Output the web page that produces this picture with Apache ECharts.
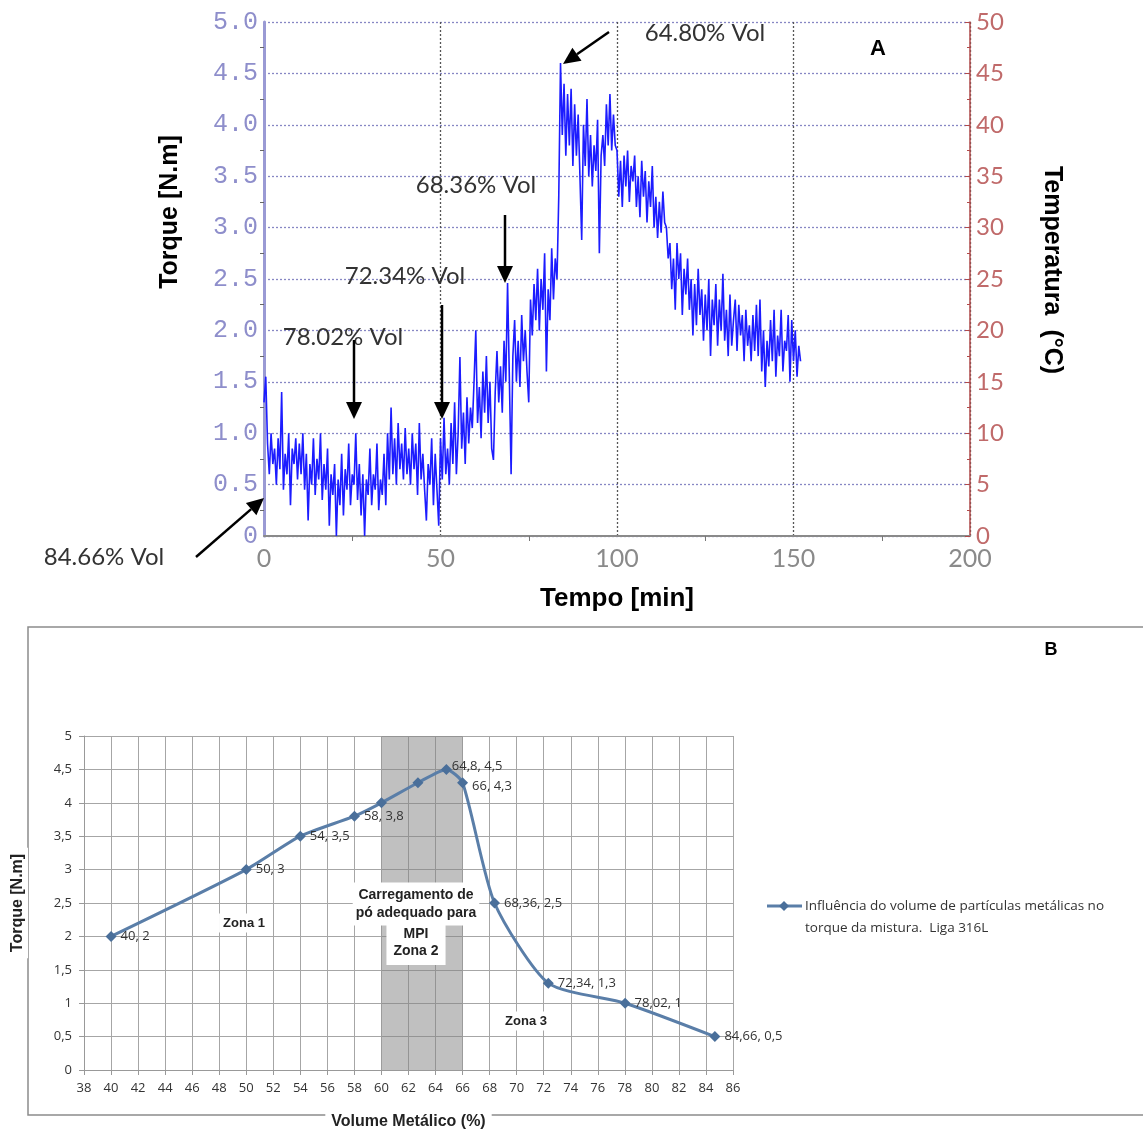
<!DOCTYPE html>
<html>
<head>
<meta charset="utf-8">
<script src="https://cdn.jsdelivr.net/npm/echarts@6/dist/echarts.min.js"></script>
<style>
  html, body { margin: 0; padding: 0; background: #fff; }
  #chart { width: 1143px; height: 1133px; }
</style>
</head>
<body>
<div id="chart"></div>
<script>
// --- A: torque reading, one sample every 0.5 min (0 .. 152 min)
const sampleStep = 0.5;
const torqueA = [
  1.3, 1.55, 0.9, 0.6, 1.0, 0.7, 0.85, 0.5, 0.95, 0.65, 1.4, 0.45, 0.8, 0.6, 1.0, 0.3, 0.85, 0.7, 0.95, 0.55,
  0.9, 0.6, 1.0, 0.45, 0.8, 0.15, 0.7, 0.5, 0.95, 0.4, 0.75, 0.55, 1.0, 0.35, 0.7, 0.45, 0.85, 0.1, 0.6, 0.4,
  0.7, 0.0, 0.55, 0.3, 0.8, 0.2, 0.65, 0.45, 0.9, 0.3, 0.6, 0.5, 1.0, 0.35, 0.7, 0.2, 0.6, 0.0, 0.55, 0.4,
  0.85, 0.3, 0.6, 0.45, 0.9, 0.25, 0.55, 0.4, 0.8, 0.3, 1.0, 0.55, 1.25, 0.6, 0.95, 0.5, 1.1, 0.65, 0.9, 0.55,
  1.05, 0.6, 0.85, 0.5, 1.0, 0.65, 0.9, 0.4, 1.1, 0.55, 0.8, 0.45, 0.15, 0.7, 0.5, 0.95, 0.3, 0.8, 0.45, 0.1,
  0.95, 0.55, 1.15, 0.6, 0.85, 0.5, 1.1, 0.7, 1.3, 0.6, 1.0, 1.74, 0.85, 1.2, 0.7, 1.35, 0.9, 1.25, 1.05, 1.5,
  2.0, 1.1, 1.45, 0.95, 1.6, 1.2, 1.75, 1.1, 1.5, 0.85, 0.74, 1.4, 1.8, 1.3, 1.65, 1.2, 1.9, 1.5, 2.46, 1.55,
  0.6, 1.75, 2.1, 1.5, 1.9, 1.45, 2.15, 1.7, 2.0, 1.6, 1.3, 2.3, 1.95, 2.45, 2.1, 2.6, 2.0, 2.5, 2.2, 2.75,
  1.6, 2.4, 2.1, 2.8, 2.3, 2.7, 2.5, 3.3, 4.6, 3.9, 4.4, 3.7, 4.3, 3.8, 4.35, 3.6, 4.2, 3.7, 4.1, 3.5,
  2.88, 4.0, 3.6, 4.25, 3.5, 3.9, 3.4, 3.8, 3.55, 4.05, 2.75, 3.7, 3.9, 3.6, 4.2, 3.8, 4.3, 3.75, 4.1, 3.8,
  3.75, 3.3, 3.65, 3.2, 3.7, 3.4, 3.75, 3.25, 3.6, 3.45, 3.7, 3.2, 3.5, 3.1, 3.65, 3.3, 3.55, 3.05, 3.45, 3.2,
  3.6, 3.0, 3.3, 2.9, 3.25, 2.95, 3.35, 3.05, 3.0, 2.7, 2.85, 2.4, 2.7, 2.2, 2.85, 2.5, 2.75, 2.15, 2.6, 2.35,
  2.7, 2.2, 2.5, 1.95, 2.45, 2.05, 2.6, 2.15, 2.4, 1.9, 2.35, 2.0, 2.5, 1.75, 2.3, 2.05, 2.45, 1.85, 2.3, 2.0,
  2.55, 1.9, 2.2, 1.75, 2.35, 1.85, 2.1, 2.3, 1.8, 2.25, 1.95, 2.15, 1.7, 2.2, 1.85, 2.05, 1.7, 2.15, 1.8, 2.25,
  1.75, 2.3, 1.6, 2.0, 1.45, 1.9, 1.65, 2.1, 1.7, 2.2, 1.55, 1.95, 1.75, 2.2, 1.6, 1.9, 1.8, 2.15, 1.5, 2.1,
  1.7, 2.0, 1.55, 1.85, 1.7
];

// --- B: torque vs metallic volume
const volume = [40, 50, 54, 58, 60, 62.7, 64.8, 66, 68.36, 72.34, 78.02, 84.66];
const torqueB = [2, 3, 3.5, 3.8, 4, 4.3, 4.5, 4.3, 2.5, 1.3, 1, 0.5];
const pointLabels = ['40, 2', '50, 3', '54, 3,5', '58, 3,8', '', '', '64,8, 4,5', '66, 4,3',
  '68,36, 2,5', '72,34, 1,3', '78,02, 1', '84,66, 0,5'];
const zone2 = [60, 66];

const volLabels = [
  { text: '64.80% Vol', x: 705, y: 33 },
  { text: '68.36% Vol', x: 476, y: 185 },
  { text: '72.34% Vol', x: 405, y: 276 },
  { text: '78.02% Vol', x: 343, y: 337 },
  { text: '84.66% Vol', x: 104, y: 557 }
];
const arrows = [
  [609, 32, 563, 64],
  [505, 215, 505, 283],
  [442, 305, 442, 419],
  [354, 340, 354, 419],
  [196, 557, 264, 498]
];

function arrow(a) {
  const [x1, y1, x2, y2] = a;
  const ang = Math.atan2(y2 - y1, x2 - x1);
  const len = 17, half = 8;
  const bx = x2 - len * Math.cos(ang), by = y2 - len * Math.sin(ang);
  const nx = -Math.sin(ang), ny = Math.cos(ang);
  return [
    { type: 'line', z: 100, shape: { x1: x1, y1: y1, x2: bx, y2: by }, style: { stroke: '#000', lineWidth: 2.5 } },
    { type: 'polygon', z: 100, shape: { points: [[x2, y2], [bx + nx * half, by + ny * half], [bx - nx * half, by - ny * half]] },
      style: { fill: '#000' } }
  ];
}

const chart = echarts.init(document.getElementById('chart'));

const boxText = { font: 'bold 14px "Liberation Sans"', fill: '#222', align: 'center', verticalAlign: 'middle', backgroundColor: '#fff' };

const graphics = [
  { type: 'rect', z: -10, shape: { x: 28, y: 627, width: 1130, height: 488 },
    style: { fill: 'none', stroke: '#8c8c8c', lineWidth: 1.5 } },
  { type: 'text', x: 170, y: 212, rotation: Math.PI / 2,
    style: { text: 'Torque [N.m]', font: 'bold 25px "Liberation Sans"', fill: '#000', align: 'center', verticalAlign: 'middle' } },
  { type: 'text', x: 1052, y: 270, rotation: -Math.PI / 2,
    style: { text: 'Temperatura  (°C)', font: 'bold 25px "Liberation Sans"', fill: '#000', align: 'center', verticalAlign: 'middle' } },
  { type: 'text', x: 878, y: 49,
    style: { text: 'A', font: 'bold 22px "Liberation Sans"', fill: '#000', align: 'center', verticalAlign: 'middle' } },
  { type: 'text', x: 1051, y: 650,
    style: { text: 'B', font: 'bold 18px "Liberation Sans"', fill: '#000', align: 'center', verticalAlign: 'middle' } },
  { type: 'text', z: 100, x: 244, y: 923,
    style: Object.assign({}, boxText, { text: 'Zona 1', font: 'bold 13px "Liberation Sans"', padding: [3, 4] }) },
  { type: 'text', z: 100, x: 526, y: 1021,
    style: Object.assign({}, boxText, { text: 'Zona 3', font: 'bold 13px "Liberation Sans"', padding: [3, 4] }) },
  { type: 'text', z: 100, x: 416, y: 943,
    style: Object.assign({}, boxText, { text: 'MPI\nZona 2', lineHeight: 17, padding: [2, 7, 8, 7] }) },
  { type: 'text', z: 101, x: 416, y: 904,
    style: Object.assign({}, boxText, { text: 'Carregamento de\npó adequado para', lineHeight: 18, padding: [5, 3, 2, 3] }) },
  // legend of B
  { type: 'line', shape: { x1: 767, y1: 906, x2: 802, y2: 906 }, style: { stroke: '#5a7ea8', lineWidth: 3 } },
  { type: 'polygon', shape: { points: [[784, 901], [789, 906], [784, 911], [779, 906]] }, style: { fill: '#4a6f9a' } },
  { type: 'text', x: 805, y: 917,
    style: { text: 'Influência do volume de partículas metálicas no\ntorque da mistura.  Liga 316L',
      font: '13.5px "Open Sans"', fill: '#333', align: 'left', verticalAlign: 'middle', lineHeight: 22 } }
];
volLabels.forEach(function (l) {
  graphics.push({ type: 'text', z: 100, x: l.x, y: l.y,
    style: { text: l.text, font: '24px "Lato"', fill: '#333', align: 'center', verticalAlign: 'middle' } });
});
arrows.forEach(function (a) { arrow(a).forEach(function (g) { graphics.push(g); }); });

const option = {
  backgroundColor: '#fff',
  animation: false,
  grid: [
    { left: 264, right: 173, top: 22, bottom: 597 },
    { left: 76, right: 410, top: 736, bottom: 60 }
  ],
  xAxis: [
    {
      gridIndex: 0, type: 'value', min: 0, max: 200, interval: 50,
      name: 'Tempo [min]', nameLocation: 'middle', nameGap: 50,
      nameTextStyle: { fontFamily: 'Liberation Sans', fontWeight: 'bold', fontSize: 26, color: '#000' },
      axisLine: { lineStyle: { color: '#8a8a8a', width: 2 } },
      axisTick: { show: false },
      minorTick: { show: true, splitNumber: 2, length: 5, lineStyle: { color: '#777' } },
      axisLabel: { fontFamily: 'Lato', fontSize: 25, color: '#8a8a8a', margin: 10 },
      splitLine: { show: true, lineStyle: { type: [2, 2], color: '#555', width: 1.3 } }
    },
    {
      gridIndex: 1, type: 'value', min: 38, max: 86, interval: 2,
      name: 'Volume Metálico (%)', nameLocation: 'middle', nameGap: 42,
      nameTextStyle: { fontFamily: 'Liberation Sans', fontWeight: 'bold', fontSize: 16, color: '#222',
        backgroundColor: '#fff', padding: [2, 6] },
      axisLine: { lineStyle: { color: '#999' } },
      axisTick: { show: true, length: 5, lineStyle: { color: '#999' } },
      axisLabel: { fontFamily: 'Open Sans', fontSize: 13, color: '#333', margin: 12 },
      splitLine: { show: true, lineStyle: { color: '#a6a6a6', width: 1 } }
    }
  ],
  yAxis: [
    {
      gridIndex: 0, type: 'value', min: 0, max: 5, interval: 0.5, position: 'left',
      axisLine: { show: true, lineStyle: { color: '#9a9ad4', width: 3 } },
      axisTick: { show: false },
      minorTick: { show: true, splitNumber: 2, length: 4, lineStyle: { color: '#666' } },
      axisLabel: { fontFamily: 'Liberation Mono', fontSize: 25, color: '#8e8ecb', margin: 6,
        formatter: function (v) { return v === 0 ? '0' : v.toFixed(1); } },
      splitLine: { show: true, lineStyle: { type: [2, 2], color: '#8787c4', width: 1.3 } }
    },
    {
      gridIndex: 0, type: 'value', min: 0, max: 50, interval: 5, position: 'right',
      axisLine: { show: true, lineStyle: { color: '#b04a4a', width: 1.5 } },
      axisTick: { show: true, inside: true, length: 5, lineStyle: { color: '#b04a4a' } },
      minorTick: { show: true, splitNumber: 2, length: 3, lineStyle: { color: '#b04a4a' } },
      axisLabel: { fontFamily: 'Lato', fontSize: 24, color: '#c06a6a', margin: 6 },
      splitLine: { show: false }
    },
    {
      gridIndex: 1, type: 'value', min: 0, max: 5, interval: 0.5,
      name: 'Torque [N.m]', nameLocation: 'middle', nameGap: 56,
      nameTextStyle: { fontFamily: 'Liberation Sans', fontWeight: 'bold', fontSize: 16, color: '#222',
        backgroundColor: '#fff', padding: [2, 6] },
      axisLine: { show: true, lineStyle: { color: '#999' } },
      axisTick: { show: true, length: 5, lineStyle: { color: '#999' } },
      axisLabel: { fontFamily: 'Open Sans', fontSize: 13, color: '#333', margin: 12,
        formatter: function (v) { return String(v).replace('.', ','); } },
      splitLine: { show: true, lineStyle: { color: '#a6a6a6', width: 1 } }
    }
  ],
  series: [
    {
      name: 'Torque',
      type: 'line',
      xAxisIndex: 0, yAxisIndex: 0,
      showSymbol: false,
      data: torqueA.map(function (v, i) { return [i * sampleStep, v]; }),
      lineStyle: { color: '#1c1cff', width: 1.6 },
      z: 3
    },
    {
      name: 'Influência do volume de partículas metálicas no torque da mistura.  Liga 316L',
      type: 'line',
      xAxisIndex: 1, yAxisIndex: 2,
      smooth: 0.22,
      symbol: 'diamond', symbolSize: 11,
      data: volume.map(function (v, i) {
        const d = { value: [v, torqueB[i]] };
        if (pointLabels[i]) {
          d.label = { show: true, formatter: pointLabels[i] };
          if (i === 6) d.label.offset = [-4, -3];
          if (i === 7) d.label.offset = [0, 4];
        }
        return d;
      }),
      lineStyle: { color: '#5a7ea8', width: 3 },
      itemStyle: { color: '#4a6f9a' },
      label: { show: false, position: 'right', distance: 4, fontFamily: 'Open Sans', fontSize: 13, color: '#333' },
      markArea: {
        silent: true,
        itemStyle: { color: 'rgba(130,130,130,0.5)' },
        data: [[{ xAxis: zone2[0], yAxis: 0 }, { xAxis: zone2[1], yAxis: 5 }]]
      },
      z: 3
    }
  ],
  graphic: graphics
};

chart.setOption(option);
</script>
</body>
</html>
